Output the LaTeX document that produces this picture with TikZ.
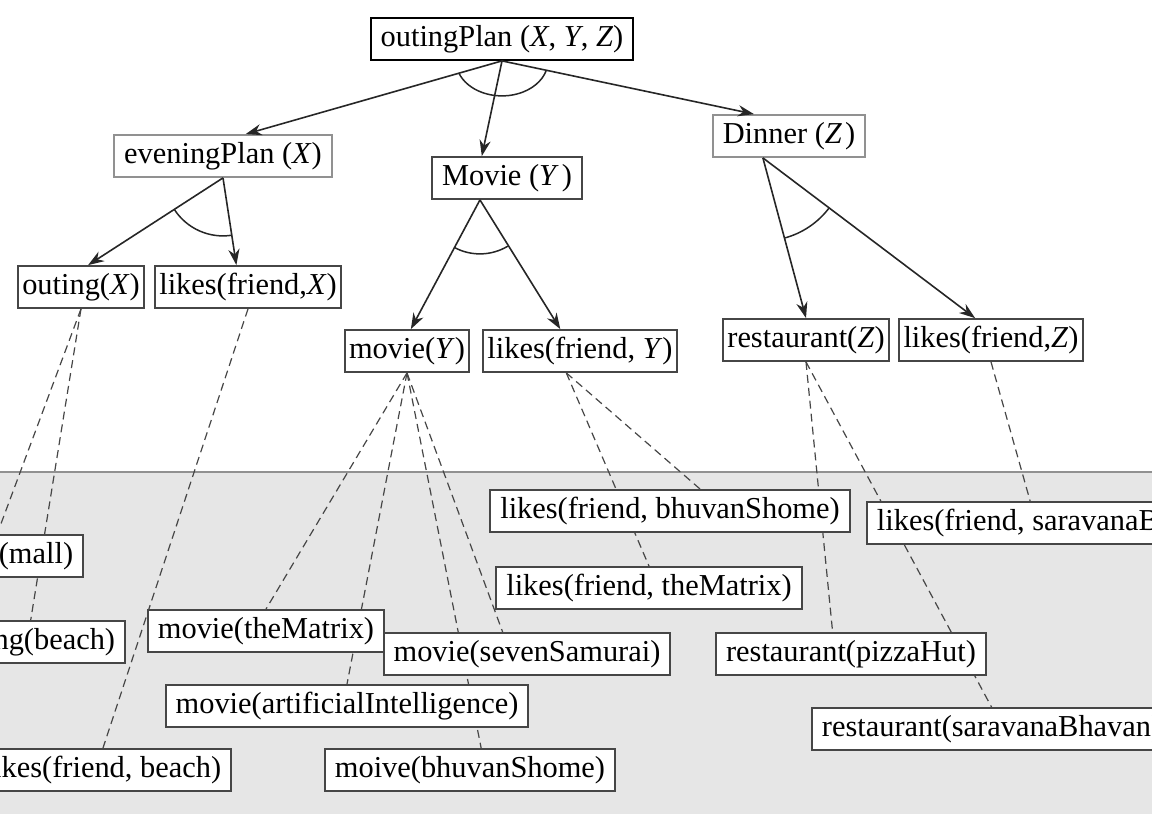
\documentclass[tikz,border=0pt]{standalone}
\usepackage{fontspec}
\setmainfont{Liberation Serif}
\usepackage{tikz}
\usetikzlibrary{arrows.meta,positioning,calc,backgrounds}
\definecolor{fondo}{RGB}{230,230,230}
\definecolor{gris}{RGB}{70,70,70}
\definecolor{grisclaro}{RGB}{145,145,145}
\tikzset{
  caja/.style={draw=gris,line width=0.9pt,fill=white,inner xsep=5pt,inner ysep=3.3pt,
    text height=11pt,text depth=3.4pt,font=\fontsize{15.2}{18}\selectfont},
  meta/.style={caja,inner xsep=2.2pt},
  flecha/.style={black!85,line width=0.8pt,-{Stealth[length=8pt,width=5.6pt]}},
  enlace/.style={gris,line width=0.6pt,dash pattern=on 4pt off 2.5pt},
  arco/.style={black!85,line width=0.75pt}
}

\begin{document}
\begin{tikzpicture}[x=0.5pt,y=-0.5pt]
  \useasboundingbox (0,0) rectangle (1152,814);
  \clip (0,0) rectangle (1152,814);
  % plan nodes
  \node[caja,draw=black] (op) at (502,39) {outingPlan (\textit{X}, \textit{Y}, \textit{Z})};
  \node[caja,draw=grisclaro] (ep) at (223,156) {eveningPlan (\textit{X})};
  \node[caja] (mv) at (507,178) {Movie (\textit{Y}\kern1.5pt)};
  \node[caja,draw=grisclaro] (dn) at (789,136) {Dinner (\textit{Z}\kern1.5pt)};
  \node[meta] (ox) at (81,287) {outing(\textit{X})};
  \node[meta] (lx) at (248,287) {likes(friend,\textit{X})};
  \node[meta] (my) at (407,351) {movie(\textit{Y})};
  \node[meta] (ly) at (580,351) {likes(friend, \textit{Y})};
  \node[meta] (rz) at (806,340) {restaurant(\textit{Z})};
  \node[meta] (lz) at (991,340) {likes(friend,\textit{Z})};
  % facts
  \node[caja,anchor=east] (om) at (84,556) {outing(mall)};
  \node[caja,anchor=east] (ob) at (126,642) {outing(beach)};
  \node[caja,anchor=east] (lb) at (232,770) {likes(friend, beach)};
  \node[caja] (mtm) at (266,631) {movie(theMatrix)};
  \node[caja] (mai) at (347,706) {movie(artificialIntelligence)};
  \node[caja] (mss) at (527,654) {movie(sevenSamurai)};
  \node[caja] (mbs) at (470,770) {moive(bhuvanShome)};
  \node[caja] (lbs) at (670,511) {likes(friend, bhuvanShome)};
  \node[caja] (ltm) at (649,588) {likes(friend, theMatrix)};
  \node[caja,anchor=west] (lsb) at (866,523) {likes(friend, saravanaBhavan)};
  \node[caja] (rph) at (851,654) {restaurant(pizzaHut)};
  \node[caja,anchor=west] (rsb) at (811,729) {restaurant(saravanaBhavan)};
  % and-arcs
  \draw[flecha] (op.south) -- (ep.44);
  \draw[flecha] (op.south) -- (mv.139);
  \draw[flecha] (op.south) -- (dn.148);
  \draw[arco] ([shift={(160:46 and 35)}]op.south) arc[start angle=160, end angle=16, x radius=46, y radius=35];
  \draw[flecha] (ep.south) -- (ox.72);
  \draw[flecha] (ep.south) -- (lx.118);
  \draw[arco] ([shift={(147:58)}]ep.south) arc[start angle=147, end angle=81, radius=58];
  \draw[flecha] (mv.219) -- (my.80);
  \draw[flecha] (mv.219) -- (ly.132);
  \draw[arco] ([shift={(118:54)}]mv.219) arc[start angle=118, end angle=59, radius=54];
  \draw[flecha] (dn.220) -- (rz.north);
  \draw[flecha] (dn.220) -- (lz.126);
  \draw[arco] ([shift={(75:83)}]dn.220) arc[start angle=75, end angle=37, radius=83];
  % database band and matches
  \begin{scope}[on background layer]
    \fill[fondo] (0,472) rectangle (1152,814);
    \draw[grisclaro,line width=0.7pt] (0,472) -- (1152,472);
    \foreach \a/\b in {ox.south/om.north, ox.south/ob.north, lx.south/lb.north,
        my.south/mtm.north, my.south/mai.north, my.south/mss.138, my.south/mbs.63,
        ly.238/lbs.36, ly.238/ltm.north, rz.south/rph.130, rz.south/rsb.north,
        lz.south/lsb.143}
      \draw[enlace] (\a) -- (\b);
  \end{scope}
\end{tikzpicture}
\end{document}
